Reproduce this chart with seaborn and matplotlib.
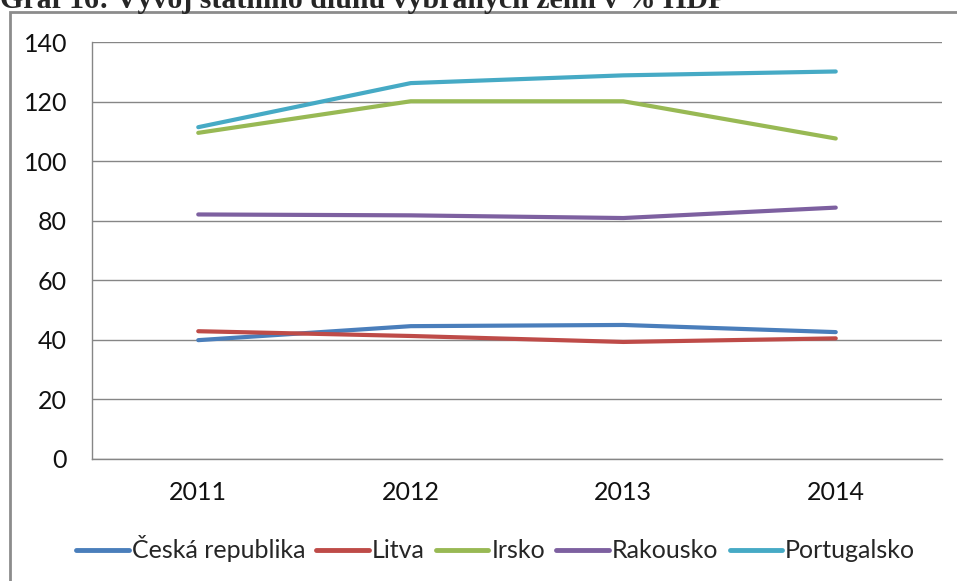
import pandas as pd
import numpy as np
import matplotlib
matplotlib.use("Agg")
import matplotlib.pyplot as plt
import matplotlib.patches as patches
import seaborn as sns

# ===== data =====
years = ["2011", "2012", "2013", "2014"]
countries = ["Česká republika", "Litva", "Irsko", "Rakousko", "Portugalsko"]
cz = [39.9, 44.6, 45.0, 42.6]
lt = [42.9, 41.3, 39.3, 40.5]
ie = [109.5, 120.1, 120.1, 107.6]
at = [82.1, 81.8, 80.9, 84.4]
pt = [111.4, 126.2, 128.8, 130.1]
colors = ["#4A7EBB", "#BE4B48", "#98B954", "#7D60A0", "#46AAC5"]

rows = []
for name, vals in zip(countries, [cz, lt, ie, at, pt]):
    for i, v in enumerate(vals):
        rows.append({"pos": i, "rok": years[i], "zeme": name, "hodnota": v})
df = pd.DataFrame(rows)

# ===== style =====
sns.set_style("white")
plt.rcParams["font.family"] = ["Lato", "DejaVu Sans"]
grid_c = "#868686"
fs = 18

fig = plt.figure(figsize=(9.57, 5.81), dpi=100)
ax = fig.add_axes([92 / 957, 1 - 459 / 581, 850 / 957, 417 / 581])

sns.lineplot(data=df, x="pos", y="hodnota", hue="zeme", hue_order=countries,
             palette=colors, linewidth=3.0, ax=ax, sort=False,
             solid_capstyle="round")

ax.set_xlim(-0.5, 3.5)
ax.set_ylim(0, 140)
ax.set_yticks(np.arange(0, 141, 20))
ax.yaxis.grid(True, color=grid_c, linewidth=1.0)
ax.set_axisbelow(True)
ax.set_xlabel("")
ax.set_ylabel("")

# category labels in the middle, tick marks on the boundaries
ax.set_xticks(range(len(years)))
ax.set_xticklabels(years)
ax.set_xticks(np.arange(-0.5, 4, 1.0), minor=True)
ax.tick_params(axis="x", which="major", length=0, pad=16, labelsize=fs,
               labelcolor="#111111")
ax.tick_params(axis="x", which="minor", length=6, width=1, color=grid_c,
               direction="out")
ax.tick_params(axis="y", length=6, width=1, color=grid_c, direction="out",
               pad=12, labelsize=fs, labelcolor="#111111")

for s in ["top", "right"]:
    ax.spines[s].set_visible(False)
for s in ["left", "bottom"]:
    ax.spines[s].set_color(grid_c)
    ax.spines[s].set_linewidth(1.0)

handles, labels = ax.get_legend_handles_labels()
ax.legend(handles, labels, loc="center", bbox_to_anchor=(0.518, 1 - 549 / 581),
          bbox_transform=fig.transFigure, ncol=5, frameon=False,
          fontsize=fs, handlelength=2.1, handletextpad=0.12,
          columnspacing=0.45, borderaxespad=0)
for h in ax.get_legend().get_lines():
    h.set_linewidth(3.5)

# outer chart frame (cut by the page)
frame = patches.Rectangle((10 / 957, -0.2), 2.0, 1.2 - 12 / 581,
                          transform=fig.transFigure, fill=False,
                          edgecolor="#8c8c8c", linewidth=2.0)
fig.add_artist(frame)

# caption above the chart, cut off by the page like in the source
fig.text(0.0, 1 - 8 / 581, "Graf 16: Vývoj státního dluhu vybraných zemí v % HDP",
         fontsize=21.5, fontweight="bold", family=["Liberation Serif"],
         va="baseline", ha="left")

fig.savefig("out.png", dpi=100)
